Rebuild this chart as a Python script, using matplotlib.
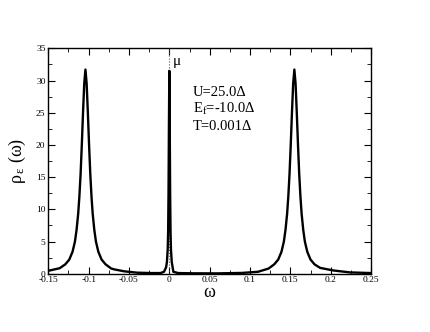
import numpy as np
from matplotlib import pyplot as plt
from matplotlib.ticker import MultipleLocator

# spectral function
omega = [-0.15, -0.136, -0.129, -0.124, -0.12, -0.117, -0.115, -0.113, -0.1115, -0.110,
         -0.1085, -0.107, -0.1055, -0.104, -0.1025, -0.101, -0.0995, -0.098, -0.0965, -0.095,
         -0.093, -0.091, -0.088, -0.084, -0.079, -0.072, -0.0686, -0.056, -0.04, -0.023,
         -0.011, -0.0066, -0.004, -0.003, -0.002, -0.0015, -0.001, -0.0005, 0.0,
         0.0005, 0.001, 0.0015, 0.002, 0.003, 0.005, 0.011, 0.03, 0.06, 0.09,
         0.11, 0.123, 0.130, 0.135, 0.139, 0.142, 0.144, 0.146, 0.1475, 0.149,
         0.1505, 0.152, 0.1535, 0.155, 0.1565, 0.158, 0.1595, 0.161, 0.1625, 0.164,
         0.166, 0.168, 0.171, 0.175, 0.18, 0.187, 0.2035, 0.224, 0.25]
rho = [0.45, 0.85, 1.45, 2.2, 3.4, 5.0, 6.8, 9.3, 12.0, 15.5,
       20.0, 25.0, 29.5, 31.7, 29.5, 25.0, 20.0, 15.5, 12.0, 9.3,
       6.8, 5.0, 3.4, 2.2, 1.45, 0.8, 0.68, 0.37, 0.16, 0.1,
       0.1, 0.3, 1.0, 1.8, 3.8, 6.5, 12.5, 23.0, 31.5,
       23.0, 12.5, 6.5, 3.8, 1.8, 0.3, 0.1, 0.06, 0.05, 0.12,
       0.3, 0.8, 1.45, 2.2, 3.4, 5.0, 6.8, 9.3, 12.0, 15.5,
       20.0, 25.0, 29.5, 31.7, 29.5, 25.0, 20.0, 15.5, 12.0, 9.3,
       6.8, 5.0, 3.4, 2.2, 1.45, 0.9, 0.5, 0.2, 0.1]
xticklabels = ['-0.15', '-0.1', '-0.05', '0', '0.05', '0.1', '0.15', '0.2', '0.25']
params = ['U=25.0\u0394', 'E$_\\mathrm{f}$=-10.0\u0394', 'T=0.001\u0394']

plt.rcParams['font.family'] = 'Liberation Serif'
plt.rcParams['mathtext.fontset'] = 'custom'
plt.rcParams['mathtext.rm'] = 'Liberation Serif'
plt.rcParams['mathtext.it'] = 'Liberation Serif'

fg = plt.figure(figsize=(4.3, 3.32), dpi=100)
ax = fg.add_axes([0.1124, 0.1756, 0.8628 - 0.1124, 0.8545 - 0.1756])

ax.axvline(0, color='0.35', ls=':', lw=0.8)
ax.plot(omega, rho, color='k', lw=1.7)

ax.set_xlim(-0.15, 0.25)
ax.set_ylim(0, 35)
ax.xaxis.set_minor_locator(MultipleLocator(0.025))
ax.yaxis.set_major_locator(MultipleLocator(5))
ax.yaxis.set_minor_locator(MultipleLocator(2.5))
ax.set_xticks(np.linspace(-0.15, 0.25, len(xticklabels)))
ax.set_xticklabels(xticklabels)
ax.tick_params(which='both', direction='in', top=True, right=True, labelsize=6.8, pad=2)
ax.tick_params(which='major', length=5)
ax.tick_params(which='minor', length=3)
for s in ax.spines.values():
  s.set_linewidth(1.0)

ax.set_xlabel('\u03c9', fontsize=13, labelpad=0)
ax.set_ylabel('\u03c1$_{\\,\u03b5}$ (\u03c9)', fontsize=13, labelpad=6)

ax.text(0.0046, 32.4, '\u03bc', fontsize=11, va='baseline')
for i, p in enumerate(params):
  ax.text(0.0294, 27.6 - i*2.65, p, fontsize=10.5, va='baseline')

fg.savefig('out.png', dpi=100)
